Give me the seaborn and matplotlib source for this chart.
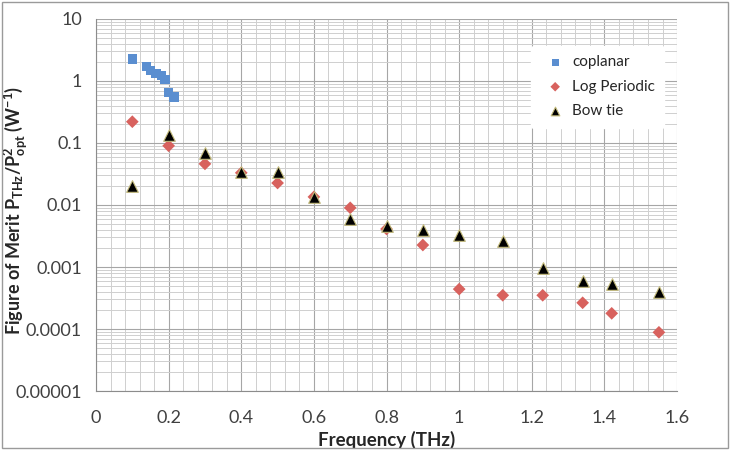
import numpy as np
import pandas as pd
import seaborn as sns
import matplotlib.pyplot as plt
from matplotlib.ticker import FixedLocator, MultipleLocator, LogLocator, NullFormatter
from matplotlib.patches import Rectangle

# Coplanar antenna
coplanar_f = [0.10, 0.14, 0.15, 0.165, 0.18, 0.19, 0.20, 0.215]
coplanar_fom = [2.26, 1.70, 1.47, 1.33, 1.21, 1.06, 0.65, 0.55]

# Log periodic antenna
logp_f = [0.10, 0.20, 0.30, 0.40, 0.50, 0.60, 0.70, 0.80, 0.90, 1.00, 1.12, 1.23, 1.34, 1.42, 1.55]
logp_fom = [0.22, 0.09, 0.046, 0.033, 0.0226, 0.0135, 0.009, 0.0041, 0.00226,
            0.00044, 0.00035, 0.00035, 0.000265, 0.000179, 0.0000885]

# Bow tie antenna
bow_f = [0.10, 0.20, 0.30, 0.40, 0.50, 0.60, 0.70, 0.80, 0.90, 1.00, 1.12, 1.23, 1.34, 1.42, 1.55]
bow_fom = [0.0202, 0.135, 0.069, 0.034, 0.0335, 0.0136, 0.0059, 0.0046, 0.0040,
           0.0033, 0.0026, 0.00097, 0.0006, 0.00053, 0.00039]

y_ticks = [1e-5, 1e-4, 1e-3, 1e-2, 1e-1, 1, 10]
y_labels = ["0.00001", "0.0001", "0.001", "0.01", "0.1", "1", "10"]
x_ticks = [0, 0.2, 0.4, 0.6, 0.8, 1.0, 1.2, 1.4, 1.6]
x_labels = ["0", "0.2", "0.4", "0.6", "0.8", "1", "1.2", "1.4", "1.6"]

sns.set_style("white")
plt.rcParams["font.family"] = ["Lato", "DejaVu Sans"]
plt.rcParams["mathtext.fontset"] = "custom"
plt.rcParams["mathtext.rm"] = "Lato"
plt.rcParams["mathtext.bf"] = "Lato:bold"

fig = plt.figure(figsize=(7.3, 4.5), dpi=100)
ax = fig.add_axes([0.1315, 0.131, 0.796, 0.827])

sns.scatterplot(x=coplanar_f, y=coplanar_fom, ax=ax, marker="s", s=45,
                color="#5A8ED0", edgecolor="none", label="coplanar", zorder=4)
sns.scatterplot(x=logp_f, y=logp_fom, ax=ax, marker="D", s=42,
                color="#D8625E", edgecolor="none", label="Log Periodic", zorder=3)
sns.scatterplot(x=bow_f, y=bow_fom, ax=ax, marker="^", s=70,
                color="black", edgecolor="#C2B97A", linewidth=0.8,
                label="Bow tie", zorder=5)

ax.set_yscale("log")
ax.set_xlim(0, 1.6)
ax.set_ylim(1e-5, 10)

ax.yaxis.set_major_locator(FixedLocator(y_ticks))
ax.set_yticklabels(y_labels)
ax.yaxis.set_minor_locator(LogLocator(base=10, subs=np.arange(2, 10), numticks=20))
ax.yaxis.set_minor_formatter(NullFormatter())
ax.xaxis.set_major_locator(FixedLocator(x_ticks))
ax.set_xticklabels(x_labels)
ax.xaxis.set_minor_locator(MultipleLocator(0.04))

ax.grid(which="major", color="#A6A6A6", linewidth=0.8)
ax.grid(which="minor", color="#CFCFCF", linewidth=0.7)
ax.set_axisbelow(True)

for side in ["top", "right"]:
    ax.spines[side].set_visible(False)
for side in ["left", "bottom"]:
    ax.spines[side].set_color("#8C8C8C")
    ax.spines[side].set_linewidth(0.8)

ax.tick_params(axis="both", which="major", direction="out", length=5,
               color="#8C8C8C", labelsize=13, labelcolor="#404040", pad=5)
ax.tick_params(axis="x", which="major", pad=9)
ax.tick_params(axis="both", which="minor", direction="out", length=3,
               color="#8C8C8C")
ax.tick_params(axis="x", which="minor", length=4)

ax.set_xlabel("Frequency (THz)", fontsize=13.5, fontweight="bold", labelpad=3)
ax.set_ylabel(r"Figure of Merit P$_{\mathbf{THz}}$/P$^{\mathbf{2}}_{\mathbf{opt}}$ (W$^{\mathbf{-1}}$)",
              fontsize=13, fontweight="bold")
ax.yaxis.set_label_coords(-0.113, 0.485)

leg = ax.legend(loc="upper left", bbox_to_anchor=(0.735, 0.948), frameon=True,
                fontsize=11, handletextpad=0.1, labelspacing=0.7,
                borderpad=0.6, markerscale=0.75)
leg.get_frame().set_facecolor("white")
leg.get_frame().set_edgecolor("white")
leg.get_frame().set_alpha(1)

fig.patches.append(Rectangle((0.003, 0.004), 0.994, 0.992, transform=fig.transFigure,
                             fill=False, edgecolor="#9A9A9A", linewidth=1.0))

fig.savefig("out.png", dpi=100)
